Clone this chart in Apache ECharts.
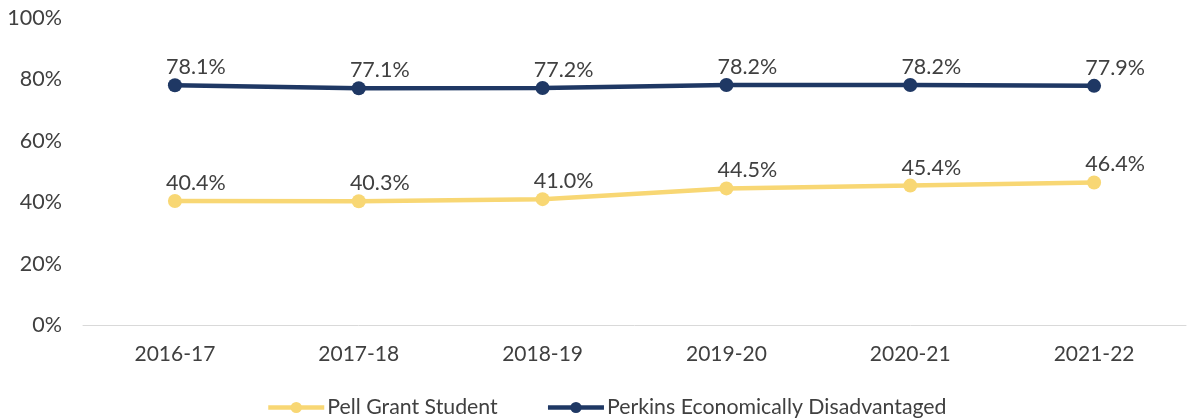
<!DOCTYPE html>
<html>
<head>
<meta charset="utf-8">
<script src="https://cdn.jsdelivr.net/npm/echarts@6/dist/echarts.min.js"></script>
<style>
  html, body { margin: 0; padding: 0; background: #fff; }
  #chart { width: 1188px; height: 419px; }
</style>
</head>
<body>
<div id="chart"></div>
<script>
// Academic years on the x axis
const years = ['2016-17', '2017-18', '2018-19', '2019-20', '2020-21', '2021-22'];
// Share of students (percent)
const pellGrant = [40.4, 40.3, 41.0, 44.5, 45.4, 46.4];
const perkinsDisadvantaged = [78.1, 77.1, 77.2, 78.2, 78.2, 77.9];
// Y axis ticks
const yTicks = [0, 20, 40, 60, 80, 100];

const textColor = '#404040';
const fontFamily = 'Lato, "Open Sans", sans-serif';

const chart = echarts.init(document.getElementById('chart'));

function lineSeries(name, data, color) {
  return {
    name: name,
    type: 'line',
    data: data,
    symbol: 'circle',
    symbolSize: 14,
    lineStyle: { width: 4.5, color: color },
    itemStyle: { color: color },
    label: {
      show: true,
      position: 'top',
      distance: 0,
      offset: [21, 0],
      color: textColor,
      fontSize: 21.5,
      fontFamily: fontFamily,
      formatter: p => p.value.toFixed(1) + '%'
    },
    animation: false
  };
}

chart.setOption({
  animation: false,
  grid: { left: 83, right: 2, top: 18, bottom: 94, containLabel: false },
  legend: {
    top: 392,
    left: 261,
    itemWidth: 56,
    itemHeight: 14,
    itemGap: 48,
    lineStyle: { width: 4.5 },
    textStyle: { color: textColor, fontSize: 21.3, fontFamily: fontFamily, padding: [0, 0, 0, -2] },
    data: ['Pell Grant Student', 'Perkins Economically Disadvantaged']
  },
  xAxis: {
    type: 'category',
    data: years,
    boundaryGap: true,
    axisLine: { show: true, lineStyle: { color: '#d9d9d9', width: 1 } },
    axisTick: { show: false },
    axisLabel: { color: textColor, fontSize: 21, fontFamily: fontFamily, margin: 19 }
  },
  yAxis: {
    type: 'value',
    min: yTicks[0],
    max: yTicks[yTicks.length - 1],
    interval: yTicks[1] - yTicks[0],
    axisLine: { show: false },
    axisTick: { show: false },
    splitLine: { show: false },
    axisLabel: {
      color: textColor,
      fontSize: 21.5,
      fontFamily: fontFamily,
      margin: 21,
      formatter: v => v + '%'
    }
  },
  series: [
    lineSeries('Pell Grant Student', pellGrant, '#F8D774'),
    lineSeries('Perkins Economically Disadvantaged', perkinsDisadvantaged, '#1F3864')
  ]
});
</script>
</body>
</html>
